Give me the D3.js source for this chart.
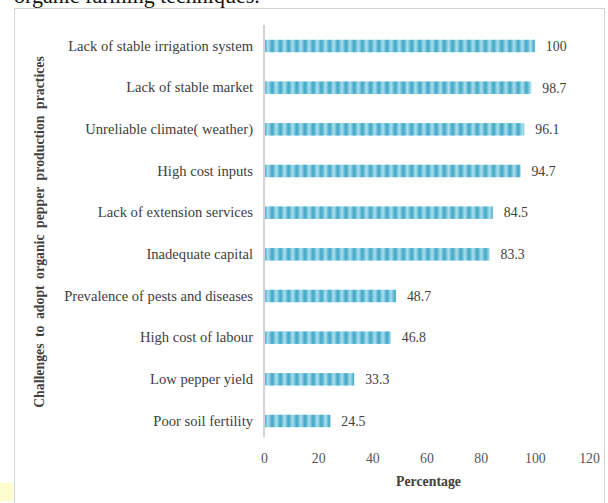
<!DOCTYPE html>
<html>
<head>
<meta charset="utf-8">
<script src="https://cdn.jsdelivr.net/npm/d3@7"></script>
<style>
  body { margin: 0; background: #fff; }
  svg { display: block; }
</style>
</head>
<body>
<div id="vis"></div>
<script>
var categories = ["Lack of stable irrigation system", "Lack of stable market", "Unreliable climate( weather)",
    "High cost inputs", "Lack of extension services", "Inadequate capital",
    "Prevalence of pests and diseases", "High cost of labour", "Low pepper yield", "Poor soil fertility"],
    values = [100, 98.7, 96.1, 94.7, 84.5, 83.3, 48.7, 46.8, 33.3, 24.5],
    valueLabels = ["100", "98.7", "96.1", "94.7", "84.5", "83.3", "48.7", "46.8", "33.3", "24.5"],
    xTicks = [0, 20, 40, 60, 80, 100, 120];

var width = 608,
    height = 503,
    plotLeft = 264,
    plotRight = 589,
    plotTop = 10.6,
    plotBottom = 456.4;

var svg = d3.select("#vis").append("svg")
    .attr("width", width)
    .attr("height", height);

// stripy bar fill
var defs = svg.append("defs");
var grad = defs.append("linearGradient").attr("id", "stripe");
grad.append("stop").attr("offset", "0%").attr("stop-color", "#3aa4c5");
grad.append("stop").attr("offset", "50%").attr("stop-color", "#ace0ee");
grad.append("stop").attr("offset", "100%").attr("stop-color", "#3aa4c5");
defs.append("pattern")
    .attr("id", "bars")
    .attr("patternUnits", "userSpaceOnUse")
    .attr("width", 8.2)
    .attr("height", 20)
    .attr("x", plotLeft)
    .append("rect")
    .attr("width", 8.2)
    .attr("height", 20)
    .attr("fill", "url(#stripe)");

// cropped caption line from the page and frame
svg.append("text")
    .attr("x", 14)
    .attr("y", 3)
    .attr("font-family", "Liberation Serif, serif")
    .attr("font-size", 22)
    .attr("fill", "#111")
    .text("organic farming techniques.");

svg.append("rect")
    .attr("x", 0).attr("y", 483).attr("width", 13).attr("height", 18)
    .attr("fill", "#fdfdd0");

svg.append("rect")
    .attr("x", 14.5).attr("y", 8.5)
    .attr("width", 590).attr("height", 500)
    .attr("fill", "none")
    .attr("stroke", "#d4d4d4");

var x = d3.scaleLinear().domain([0, 120]).range([plotLeft, plotRight]);
var y = d3.scaleBand().domain(categories).range([plotTop, plotBottom]).padding(0.7);

var g = svg.append("g")
    .attr("font-family", "Liberation Serif, serif")
    .attr("fill", "#404040");

g.selectAll(".bar").data(values).enter()
    .append("rect")
    .attr("x", x(0) + 1)
    .attr("y", function(d, i){ return y(categories[i]) })
    .attr("width", function(d){ return x(d) - x(0) - 1 })
    .attr("height", y.bandwidth())
    .attr("fill", "url(#bars)");

g.selectAll(".val").data(values).enter()
    .append("text")
    .attr("x", function(d){ return x(d) + 11 })
    .attr("y", function(d, i){ return y(categories[i]) + y.bandwidth() / 2 })
    .attr("dy", "0.35em")
    .attr("font-size", 13.8)
    .text(function(d, i){ return valueLabels[i] });

// category axis
var yAxis = g.append("g")
    .attr("transform", "translate(" + plotLeft + ",0)")
    .call(d3.axisLeft(y).tickSize(0).tickPadding(11));
yAxis.select(".domain").remove();
yAxis.selectAll("text")
    .attr("font-family", "Liberation Serif, serif")
    .attr("font-size", 14.6)
    .attr("fill", "#404040");

g.append("line")
    .attr("x1", plotLeft).attr("x2", plotLeft)
    .attr("y1", 25).attr("y2", 437)
    .attr("stroke", "#c4c4c4")
    .attr("stroke-width", 1.5);

// value axis, no line
var xAxis = g.append("g")
    .attr("transform", "translate(0,453)")
    .call(d3.axisBottom(x).tickValues(xTicks).tickSize(0).tickPadding(0));
xAxis.select(".domain").remove();
xAxis.selectAll("text")
    .attr("font-family", "Liberation Serif, serif")
    .attr("font-size", 13.8)
    .attr("fill", "#555");

g.append("text")
    .attr("x", (plotLeft + plotRight) / 2 + 2)
    .attr("y", 486)
    .attr("text-anchor", "middle")
    .attr("font-size", 13.8)
    .attr("font-weight", "bold")
    .text("Percentage");

g.append("text")
    .attr("transform", "translate(44," + 232 + ") rotate(-90)")
    .attr("text-anchor", "middle")
    .attr("font-size", 13.8)
    .attr("font-weight", "bold")
    .attr("word-spacing", 3)
    .text("Challenges to adopt organic pepper production practices");
</script>
</body>
</html>
